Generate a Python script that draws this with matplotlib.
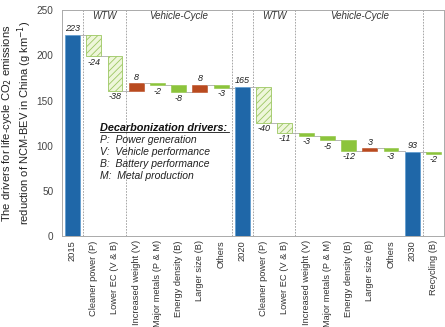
import matplotlib
matplotlib.use("Agg")
import matplotlib.pyplot as plt
import numpy as np

plt.rcParams['font.family'] = ['Liberation Sans', 'DejaVu Sans']
plt.rcParams['hatch.linewidth'] = 0.6

categories = ["2015", "Cleaner power (P)", "Lower EC (V & B)", "Increased weight (V)",
              "Major metals (P & M)", "Energy density (B)", "Larger size (B)", "Others",
              "2020", "Cleaner power (P)", "Lower EC (V & B)", "Increased weight (V)",
              "Major metals (P & M)", "Energy density (B)", "Larger size (B)", "Others",
              "2030", "Recycling (B)"]
values = [223, -24, -38, 8, -2, -8, 8, -3, 165, -40, -11, -3, -5, -12, 3, -3, 93, -2]
kinds = ["total", "hatch", "hatch", "up", "down", "down", "up", "down",
         "total", "hatch", "hatch", "down", "down", "down", "up", "down", "total", "down"]
separators = [0.5, 2.5, 7.5, 8.5, 10.5, 16.5]
groups = [("WTW", 0.5, 2.5), ("Vehicle-Cycle", 2.5, 7.5), ("WTW", 8.5, 10.5), ("Vehicle-Cycle", 10.5, 16.5)]
legend_title = "Decarbonization drivers:"
legend_lines = ["P:  Power generation", "V:  Vehicle performance",
                "B:  Battery performance", "M:  Metal production"]

blue = "#1f67a8"
green = "#8cc43c"
red = "#b94a1f"
hatch_face = "#eef6da"
hatch_edge = "#9cc762"

fig = plt.figure(figsize=(4.45, 3.27), dpi=100)
ax = fig.add_axes([0.139, 0.278, 0.859, 0.691])

w = 0.7
level = 0
for i, (v, k) in enumerate(zip(values, kinds)):
    if k == "total":
        ax.bar(i, v, bottom=0, width=w, color=blue, edgecolor="#5b9bd0", linewidth=0.5)
        end = v
        ax.text(i, v + 2, f"{v}", ha="center", va="bottom", fontsize=6.5, style="italic", color="#222222")
    else:
        start = level
        end = level + v
        bottom = min(start, end)
        height = abs(v)
        if k == "hatch":
            ax.bar(i, height, bottom=bottom, width=w, color=hatch_face, edgecolor=hatch_edge,
                   hatch="/////", linewidth=0.6)
        elif k == "up":
            ax.bar(i, height, bottom=bottom, width=w, color=red, edgecolor=red, linewidth=0.4)
        else:
            ax.bar(i, height, bottom=bottom, width=w, color=green, edgecolor=green, linewidth=0.4)
        if v > 0:
            ax.text(i, end + 2, f"{v}", ha="center", va="bottom", fontsize=6.5, style="italic", color="#222222")
        else:
            ax.text(i, end - 1.5, f"{v}", ha="center", va="top", fontsize=6.5, style="italic", color="#222222")
    if i < len(values) - 1:
        ax.plot([i + w / 2, i + 1 - w / 2], [end, end], color="#aaaaaa", linewidth=0.6, zorder=1)
    level = end

for s in separators:
    ax.axvline(s, color="#999999", linestyle=(0, (2, 1.5)), linewidth=0.6, zorder=0)

for name, a, b in groups:
    ax.text((a + b) / 2, 243, name, ha="center", va="center", fontsize=7, style="italic", color="#333333")

ax.text(1.3, 120, legend_title, ha="left", va="center", fontsize=7.8, style="italic",
        fontweight="bold", color="#111111")
ax.plot([1.3, 7.35], [115, 115], color="#111111", linewidth=0.6)
for j, line in enumerate(legend_lines):
    ax.text(1.3, 106 - j * 13.3, line, ha="left", va="center", fontsize=7.5, style="italic", color="#222222")

ax.set_xlim(-0.5, 17.5)
ax.set_ylim(0, 250)
ax.set_yticks([0, 50, 100, 150, 200, 250])
ax.set_xticks(range(len(categories)))
ax.set_xticklabels(categories, rotation=90, fontsize=6.7, color="#333333")
ax.tick_params(axis="y", labelsize=7.2, colors="#444444", length=0, pad=6)
ax.tick_params(axis="x", length=0, pad=3)
for sp in ax.spines.values():
    sp.set_color("#aaaaaa")
    sp.set_linewidth(0.7)

ax.set_ylabel("The drivers for life-cycle CO$_2$ emissions\nreduction of NCM-BEV in China (g km$^{-1}$)",
              fontsize=8, color="#222222", linespacing=1.1)
ax.yaxis.set_label_coords(-0.072, 0.5)

fig.savefig("out.png", dpi=100)
